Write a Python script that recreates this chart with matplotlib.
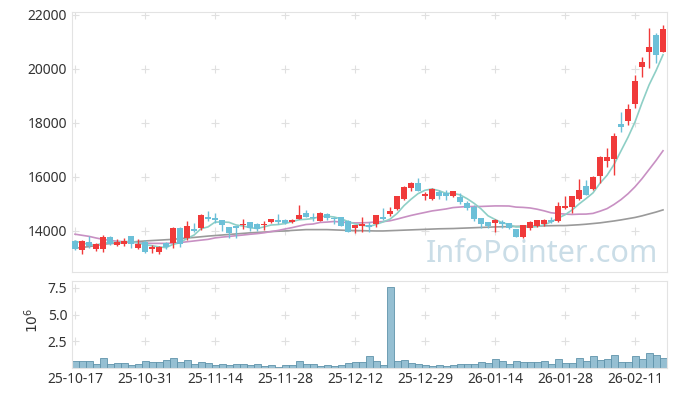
import matplotlib
matplotlib.use("Agg")
import matplotlib.pyplot as plt
import numpy as np
import pandas as pd

plt.rcParams['font.family'] = ['Noto Sans', 'DejaVu Sans']

# ---- data ----
holidays = ['2025-12-25', '2025-12-31', '2026-01-01', '2026-02-16', '2026-02-17', '2026-02-18']
dates = pd.bdate_range('2025-10-17', '2026-02-20').drop(pd.to_datetime(holidays))

opens = [13630, 13300, 13600, 13330, 13330, 13770, 13480, 13530, 13800, 13380,
         13600, 13330, 13230, 13540, 13540, 14110, 13730, 14090, 14100, 14520,
         14490, 14410, 14150, 14190, 14210, 14320, 14260, 14210, 14350, 14400,
         14420, 14330, 14440, 14680, 14530, 14380, 14620, 14480, 14510, 14380,
         14120, 14200, 14220, 14250, 14530, 14620, 14800, 15180, 15600, 15770,
         15290, 15180, 15460, 15400, 15300, 15270, 15050, 14900, 14470, 14330,
         14310, 14320, 14280, 14070, 13790, 14120, 14200, 14250, 14410, 14380,
         14840, 14880, 15170, 15670, 15550, 16040, 16600, 16660, 17960, 18090,
         18700, 20090, 20610, 21260, 20620]
highs = [13680, 13650, 13830, 13560, 13850, 13800, 13700, 13730, 13820, 13720,
         13650, 13480, 13450, 13600, 14150, 14150, 14370, 14290, 14630, 14740,
         14680, 14420, 14160, 14200, 14430, 14330, 14300, 14370, 14450, 14610,
         14450, 14440, 14960, 14760, 14680, 14700, 14680, 14520, 14520, 14390,
         14230, 14530, 14320, 14600, 14860, 14900, 15310, 15670, 15800, 15970,
         15460, 15600, 15520, 15520, 15490, 15420, 15120, 14960, 14480, 14340,
         14460, 14410, 14300, 14080, 14230, 14370, 14400, 14440, 14500, 15090,
         15280, 15290, 15910, 15890, 16040, 16760, 17060, 17620, 18400, 18690,
         19780, 20460, 21510, 21340, 21620]
lows = [13300, 13150, 13370, 13260, 13220, 13480, 13450, 13460, 13380, 13340,
        13200, 13180, 13160, 13340, 13370, 13420, 13670, 13970, 14050, 14380,
        14290, 14010, 13740, 13730, 14070, 14000, 13990, 14040, 14280, 14260,
        14250, 14300, 14440, 14520, 14360, 14370, 14420, 14250, 14180, 13970,
        13940, 13970, 13970, 14160, 14400, 14570, 14780, 15140, 15480, 15480,
        15150, 15150, 15170, 15160, 15250, 15000, 14770, 14370, 14100, 14100,
        13980, 14100, 14080, 13780, 13750, 14040, 14160, 14200, 14310, 14350,
        14830, 14680, 15150, 15330, 15500, 15770, 16360, 16070, 17680, 17930,
        18550, 19720, 20030, 20210, 20610]
closes = [13330, 13630, 13460, 13520, 13770, 13530, 13600, 13620, 13530, 13510,
          13210, 13400, 13400, 13400, 14110, 13520, 14190, 14010, 14590, 14440,
          14410, 14220, 13940, 14100, 14250, 14100, 14060, 14250, 14440, 14330,
          14290, 14420, 14590, 14530, 14470, 14670, 14470, 14450, 14190, 13980,
          14220, 14260, 14160, 14590, 14440, 14740, 15300, 15620, 15770, 15480,
          15370, 15540, 15300, 15280, 15480, 15090, 14840, 14440, 14250, 14190,
          14410, 14250, 14100, 13790, 14220, 14320, 14390, 14410, 14330, 14930,
          14930, 15280, 15520, 15330, 15990, 16730, 16730, 17520, 17860, 18520,
          19560, 20270, 20810, 20520, 21470]
volumes_m = [0.69, 0.69, 0.69, 0.40, 0.94, 0.40, 0.47, 0.47, 0.31, 0.40,
             0.69, 0.60, 0.60, 0.78, 0.94, 0.60, 0.78, 0.40, 0.60, 0.47,
             0.31, 0.40, 0.31, 0.40, 0.40, 0.31, 0.40, 0.22, 0.31, 0.10,
             0.31, 0.31, 0.69, 0.40, 0.40, 0.22, 0.31, 0.22, 0.31, 0.47,
             0.60, 0.55, 1.15, 0.69, 0.31, 7.60, 0.69, 0.78, 0.47, 0.40,
             0.31, 0.22, 0.31, 0.22, 0.31, 0.40, 0.40, 0.40, 0.60, 0.47,
             0.85, 0.69, 0.40, 0.69, 0.55, 0.60, 0.60, 0.69, 0.40, 0.87,
             0.47, 0.47, 0.94, 0.69, 1.10, 0.78, 0.85, 1.20, 0.60, 0.60,
             1.15, 0.85, 1.40, 1.20, 0.94]
# moving-average values before the window is full
ma5_lead = [13620, 13560, 13500, 13480]
ma20_lead = [13880, 13840, 13800, 13740, 13690, 13650, 13620, 13600, 13580, 13560,
             13550, 13540, 13540, 13540, 13550, 13570, 13600, 13630, 13660]
# long moving average (grey)
ma_long = [13360, 13390, 13420, 13460, 13510, 13530, 13550, 13570, 13590, 13610,
           13630, 13645, 13660, 13675, 13690, 13715, 13740, 13760, 13785, 13810,
           13830, 13850, 13870, 13890, 13910, 13930, 13945, 13960, 13975, 13990,
           14000, 14020, 14035, 14050, 14050, 14050, 14050, 14040, 14030, 14020,
           14015, 14010, 14005, 14000, 14000, 14010, 14020, 14030, 14040, 14050,
           14060, 14070, 14080, 14085, 14090, 14100, 14110, 14120, 14130, 14140,
           14150, 14155, 14160, 14170, 14175, 14180, 14185, 14190, 14195, 14200,
           14200, 14215, 14230, 14250, 14275, 14300, 14335, 14370, 14410, 14455,
           14500, 14560, 14630, 14700, 14780]
tick_idx = [0, 10, 20, 30, 40, 50, 60, 70, 80]
price_ticks = [14000, 16000, 18000, 20000, 22000]
vol_ticks = [2.5, 5.0, 7.5]

# ---- derived ----
n = len(closes)
x = np.arange(n)
cs = pd.Series(closes, dtype=float)
ma5 = cs.rolling(5).mean().to_numpy()
ma5[:4] = ma5_lead
ma20 = cs.rolling(20).mean().to_numpy()
ma20[:19] = ma20_lead

RED = '#f03a3a'
BLUE = '#6cc0d8'
W, H = 677, 397
fig = plt.figure(figsize=(W / 100, H / 100), dpi=100)
ax = fig.add_axes([72 / W, (H - 272) / H, 595 / W, 260 / H])
axv = fig.add_axes([72 / W, (H - 368) / H, 595 / W, 87 / H])

xlim = (-0.43, 84.57)
for a in (ax, axv):
    a.set_xlim(*xlim)
    for s in a.spines.values():
        s.set_color('#e3e3e3')
        s.set_linewidth(0.8)
    a.tick_params(length=0, colors='#333333', labelsize=10)

# watermark
ax.text(0.985, 0.01, 'InfoPointer.com', transform=ax.transAxes, ha='right', va='bottom',
        fontsize=22, color='#cadde7', zorder=0)

# grid crosses
gx, gy = np.meshgrid(tick_idx, price_ticks)
ax.scatter(gx.ravel(), gy.ravel(), marker='+', s=30, color='#e0e0e0', linewidths=0.8, zorder=0.5)
gx2, gy2 = np.meshgrid(tick_idx, vol_ticks)
axv.scatter(gx2.ravel(), np.array(gy2.ravel()) * 1e6, marker='+', s=30, color='#e0e0e0',
            linewidths=0.8, zorder=0.5)

# MA lines
ax.plot(x, ma_long, color='#9a9a9a', lw=1.2, zorder=2)
ax.plot(x, ma20, color='#c890c3', lw=1.2, zorder=2)
ax.plot(x, ma5, color='#8ecfc6', lw=1.2, zorder=2)

# candles
o = np.array(opens, float); c = np.array(closes, float)
hi = np.array(highs, float); lo = np.array(lows, float)
up = c >= o
colors = np.where(up, RED, BLUE)
ax.vlines(x, lo, hi, colors=colors, lw=1.0, zorder=3)
body_bottom = np.minimum(o, c)
body_h = np.maximum(np.abs(c - o), 40)
ax.bar(x, body_h, bottom=body_bottom, width=0.72, color=colors, zorder=4, linewidth=0)

ax.set_ylim(12480, 22110)
ax.set_yticks(price_ticks)
ax.set_yticklabels([str(t) for t in price_ticks])
ax.set_xticks([])

# volume
axv.bar(x, np.array(volumes_m) * 1e6, width=1.0, color='#95bfd2', edgecolor='#5f93ab',
        linewidth=0.6, zorder=2)
axv.set_ylim(0, 8.15e6)
axv.set_yticks([v * 1e6 for v in vol_ticks])
axv.set_yticklabels([f'{v:.1f}' for v in vol_ticks])
axv.set_xticks(tick_idx)
axv.set_xticklabels([dates[i].strftime('%y-%m-%d') for i in tick_idx])
axv.tick_params(axis='x', pad=3)
fig.text(33 / W, (H - 320) / H, '$10^6$', rotation=90, ha='center', va='center',
         fontsize=10, color='#333333')

fig.savefig('out.png', dpi=100)
